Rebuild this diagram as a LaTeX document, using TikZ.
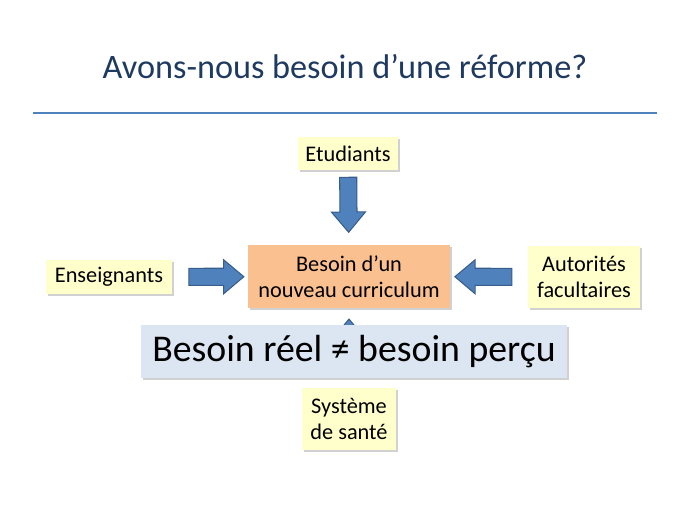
\documentclass[tikz,border=0pt]{standalone}
\usepackage{fontspec}
\setmainfont{Carlito}
\usepackage{tikz}
\usetikzlibrary{shapes.arrows, shadows}

\definecolor{titleblue}{HTML}{1F3A60}
\definecolor{ruleblue}{HTML}{4F81BD}
\definecolor{noteyellow}{HTML}{FFFFCC}
\definecolor{needorange}{HTML}{FAC090}
\definecolor{realblue}{HTML}{DCE6F2}
\definecolor{arrowfill}{HTML}{4F81BD}
\definecolor{arrowline}{HTML}{385D8A}

\begin{document}
\begin{tikzpicture}[
    font=\fontsize{12.7}{14.8}\selectfont,
    shade/.style={drop shadow={shadow xshift=0.04cm, shadow yshift=-0.04cm, fill=black, opacity=0.18}},
    actor/.style={rectangle, fill=noteyellow, align=center, inner sep=0pt, shade},
    need/.style={rectangle, fill=needorange, align=center, inner sep=0pt, shade},
    real/.style={rectangle, fill=realblue, align=center, inner sep=0pt, shade,
        font=\fontsize{21.5}{26}\selectfont},
    blockarrow/.style={single arrow, draw=arrowline, fill=arrowfill, line width=0.6pt,
        inner xsep=0pt, inner ysep=0.16cm, single arrow head extend=0.17cm,
        single arrow tip angle=80, minimum height=1.1cm, sloped, allow upside down}
]
\useasboundingbox (0,0) rectangle (13.78,-10.34);

% Title
\node[font=\fontsize{19.5}{23}\selectfont, text=titleblue] (title) at (6.9,-1.34)
    {Avons-nous besoin d’une réforme?};
\coordinate (ruleL) at (0.66,-2.26);
\coordinate (ruleR) at (13.14,-2.26);
\draw[ruleblue, line width=1.1pt] (ruleL) -- (ruleR);

% Need
\node[need, minimum width=4.04cm, minimum height=1.26cm] (besoin) at (6.98,-5.53)
    {Besoin d’un\\nouveau curriculum};

% Actors
\node[actor, minimum width=2.0cm, minimum height=0.66cm] (etud) at (6.96,-3.07) {Etudiants};
\node[actor, minimum width=2.52cm, minimum height=0.68cm] (ens) at (2.18,-5.54) {Enseignants};
\node[actor, minimum width=2.24cm, minimum height=1.24cm] (aut) at (11.68,-5.54)
    {Autorités\\facultaires};
\node[actor, minimum width=1.88cm, minimum height=1.24cm] (sys) at (6.98,-8.38)
    {Système\\de santé};

% Arrows
\path (etud) -- node[blockarrow, pos=0.395] (a1) {} (besoin);
\path (ens) -- node[blockarrow, pos=0.517] (a2) {} (besoin);
\path (aut) -- node[blockarrow, pos=0.507, minimum height=1.14cm] (a3) {} (besoin);
\path (sys) -- node[blockarrow, pos=0.485, minimum height=1.0cm] (a4) {} (besoin);

% Real vs perceived need
\node[real, minimum width=8.52cm, minimum height=1.06cm] (reel) at (7.08,-7.03)
    {Besoin réel ≠ besoin perçu};

\end{tikzpicture}
\end{document}
